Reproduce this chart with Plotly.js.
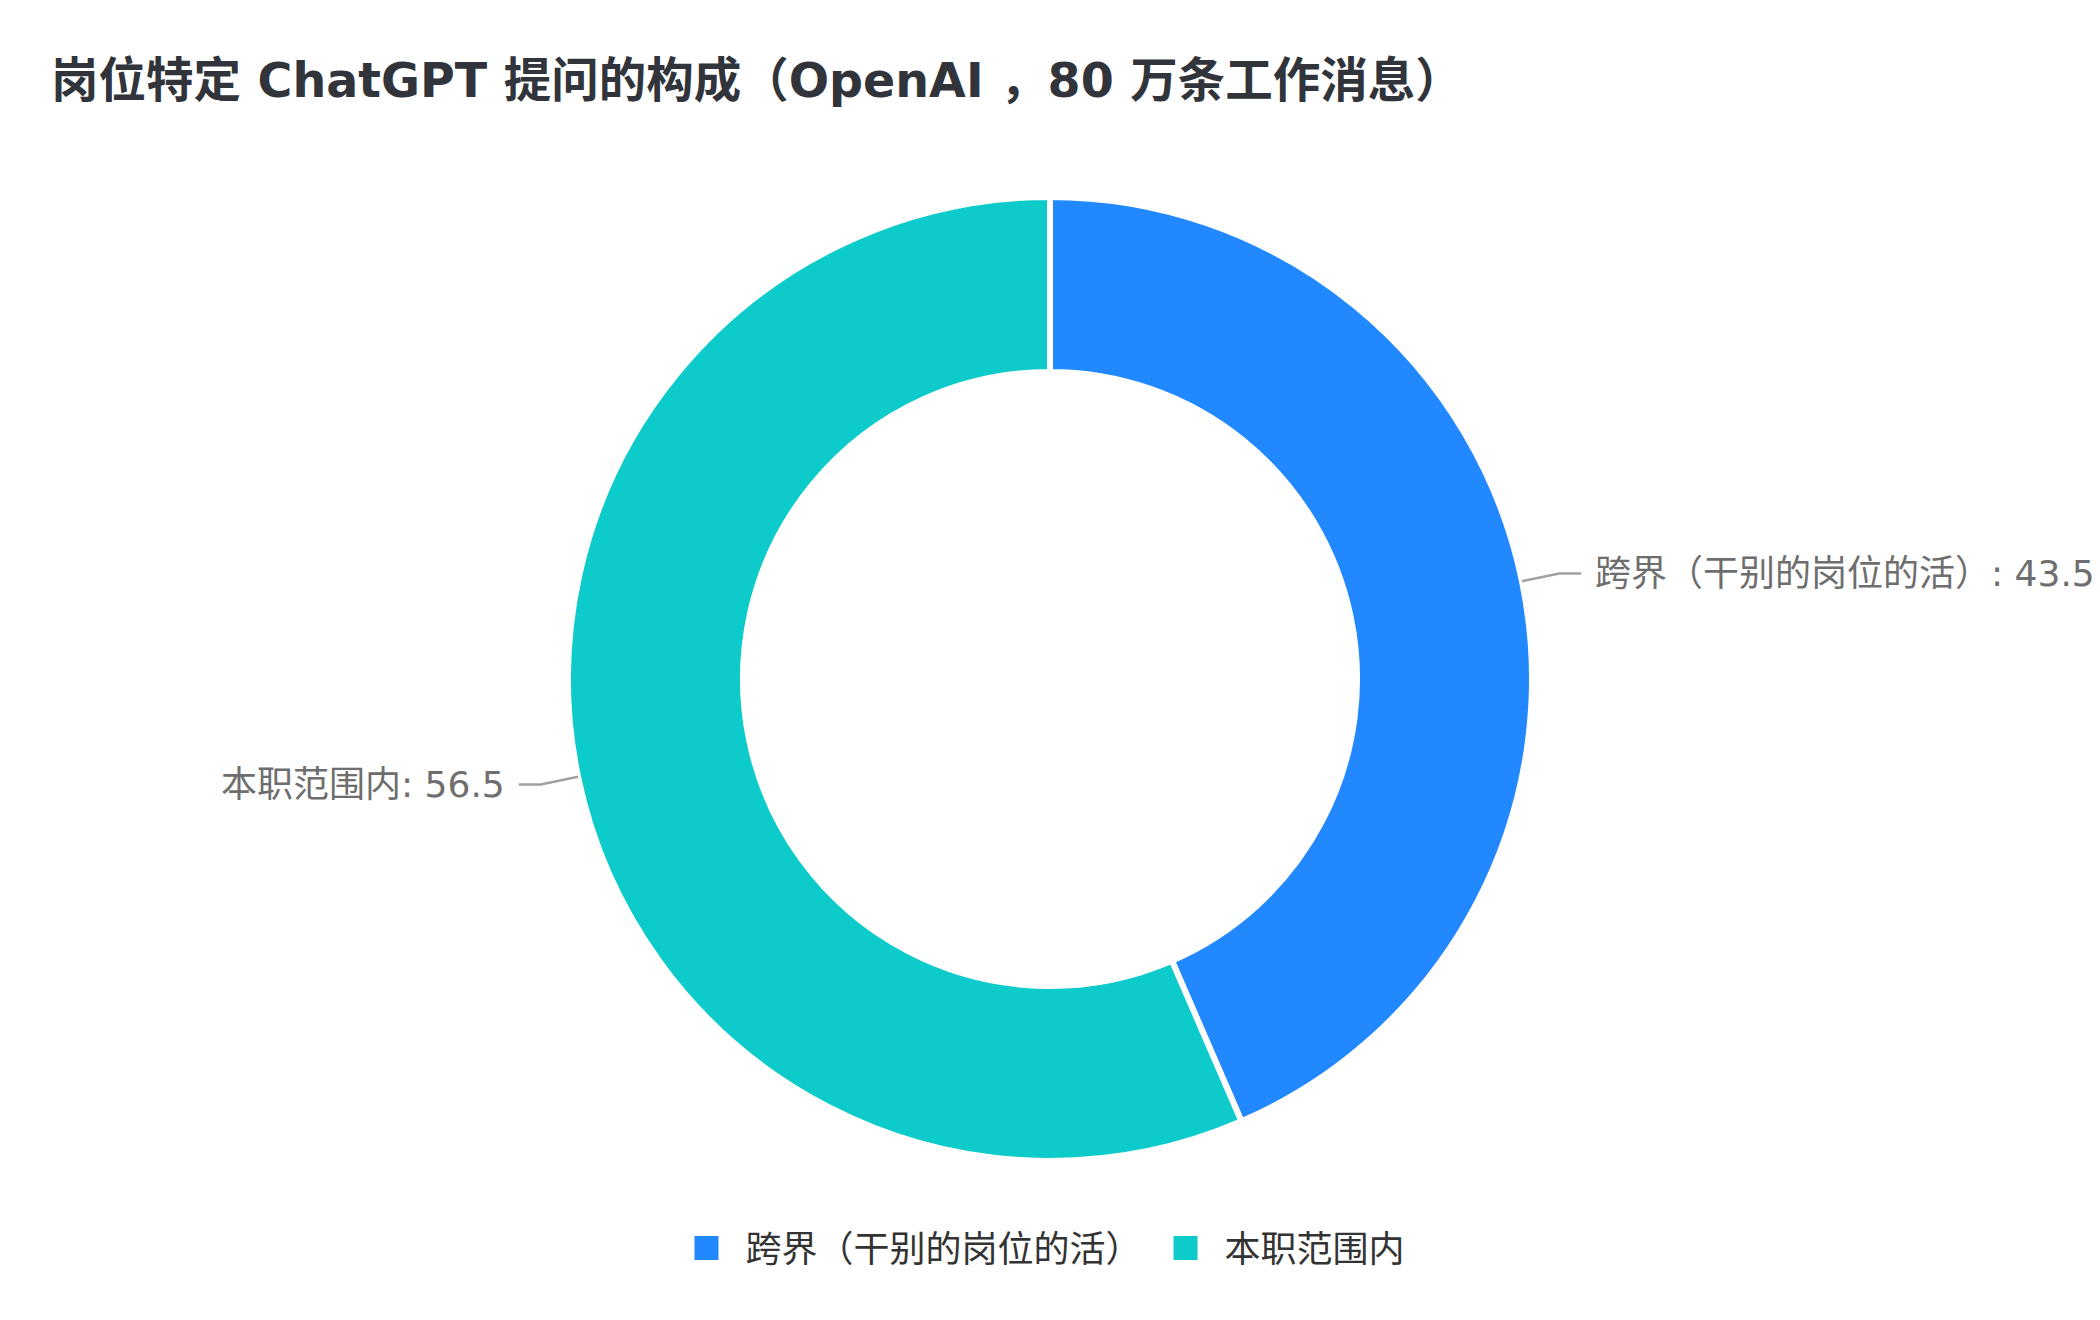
<!DOCTYPE html>
<html>
<head>
<meta charset="utf-8">
<script src="https://cdn.plot.ly/plotly-3.0.1.min.js"></script>
<style>html,body{margin:0;padding:0;background:#fff;}#chart{width:2100px;height:1320px;}</style>
</head>
<body>
<div id="chart"></div>
<script>
const titleText = "岗位特定 ChatGPT 提问的构成（OpenAI ，80 万条工作消息）";
const categories = ["跨界（干别的岗位的活）", "本职范围内"];
const values = [43.5, 56.5];
const colors = ["#2288ff", "#0dcbca"];

const W = 2100, H = 1320;
const FONT = "DejaVu Sans, Noto Sans CJK SC, sans-serif";
const domY = [0.1205, 0.8508];
const cx = W / 2;
const cy = H * (1 - (domY[0] + domY[1]) / 2);
const R = H * (domY[1] - domY[0]) / 2;

const total = values.reduce((a, b) => a + b, 0);
const shapes = [];
const annotations = [];
let acc = 0;
values.forEach((v, i) => {
  const mid = (acc + v / 2) / total * 2 * Math.PI;
  acc += v;
  const sx = Math.sin(mid), sy = -Math.cos(mid);
  const p0 = [cx + R * sx, cy + R * sy];
  const p1 = [cx + (R + 38) * sx, cy + (R + 38) * sy];
  const dir = sx >= 0 ? 1 : -1;
  const p2 = [p1[0] + dir * 22, p1[1]];
  const toPaper = p => [p[0] / W, 1 - p[1] / H];
  const a = toPaper(p0), b = toPaper(p1), c = toPaper(p2);
  shapes.push({
    type: "path", xref: "paper", yref: "paper",
    path: `M ${a[0]} ${a[1]} L ${b[0]} ${b[1]} L ${c[0]} ${c[1]}`,
    line: {color: "#a0a0a0", width: 2.5}
  });
  annotations.push({
    xref: "paper", yref: "paper",
    x: (p2[0] + dir * 12) / W, y: c[1],
    xanchor: dir > 0 ? "left" : "right", yanchor: "middle",
    text: categories[i] + ": " + v,
    showarrow: false,
    font: {family: FONT, size: 36, color: "#6e6e6e"}
  });
});

const data = [{
  type: "pie",
  labels: categories,
  values: values,
  sort: false,
  direction: "clockwise",
  rotation: 0,
  hole: 0.637,
  textinfo: "none",
  hoverinfo: "label+value",
  marker: {colors: colors, line: {color: "#ffffff", width: 6}},
  domain: {x: [0, 1], y: domY}
}];

const layout = {
  width: W, height: H,
  margin: {l: 0, r: 0, t: 0, b: 0},
  paper_bgcolor: "#ffffff",
  title: {
    text: "<b>" + titleText + "</b>",
    x: 51 / W, xanchor: "left", xref: "paper",
    y: 1 - 80 / H, yanchor: "middle", yref: "paper",
    font: {family: FONT, size: 47.5, color: "#31343b"}
  },
  showlegend: true,
  legend: {
    orientation: "h", x: 0.5 - 11 / W, xanchor: "center",
    y: 1 - 1248 / H, yanchor: "middle",
    font: {family: FONT, size: 36, color: "#333333"},
    itemwidth: 68, traceorder: "normal"
  },
  shapes: shapes,
  annotations: annotations
};

Plotly.newPlot("chart", data, layout, {displayModeBar: false, staticPlot: true}).then(gd => {
  // enlarge the legend colour squares to match the reference style
  gd.querySelectorAll(".legendpie").forEach(p => {
    p.setAttribute("d", "M12,12H-12V-12H12Z");
    p.style.strokeWidth = "0px";
  });
});
</script>
</body>
</html>
